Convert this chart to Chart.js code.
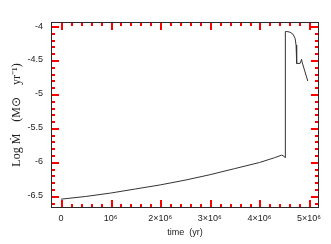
<!DOCTYPE html>
<html lang="en">
<head>
    <meta charset="UTF-8">
    <title>Mass loss rate</title>
    <script src="https://cdn.jsdelivr.net/npm/chart.js"></script>
    <style>
        html, body { margin: 0; padding: 0; background: #fff; }
        #wrap { width: 331px; height: 244px; }
    </style>
</head>
<body>
    <div id="wrap"><canvas id="chart"></canvas></div>
    <script>
        // time in yr, log Mdot in Msun/yr
        var timeYr = [0, 0.5e6, 1e6, 1.5e6, 2e6, 2.5e6, 3e6, 3.5e6, 4e6, 4.3e6, 4.45e6, 4.5e6, 4.52e6,
                      4.522e6, 4.55e6, 4.617e6, 4.677e6, 4.718e6, 4.738e6, 4.75e6, 4.819e6, 4.849e6, 4.859e6, 4.974e6];
        var logMdot = [-6.55, -6.51, -6.46, -6.40, -6.34, -6.27, -6.19, -6.10, -6.01, -5.94, -5.90, -5.92, -5.94,
                       -4.08, -4.08, -4.09, -4.12, -4.18, -4.28, -4.55, -4.55, -4.49, -4.53, -4.81];
        var xTicks = [0, 1e6, 2e6, 3e6, 4e6, 5e6];
        var xTickLabels = ['0', '10\u2076', '2\u00d710\u2076', '3\u00d710\u2076', '4\u00d710\u2076', '5\u00d710\u2076'];
        var yTicks = [-6.5, -6, -5.5, -5, -4.5, -4];
        // minor tick positions for the frame
        var xMinor = [0, 0.2e6, 0.4e6, 0.6e6, 0.8e6, 1e6, 1.2e6, 1.4e6, 1.6e6, 1.8e6, 2e6, 2.2e6, 2.4e6, 2.6e6, 2.8e6,
                      3e6, 3.2e6, 3.4e6, 3.6e6, 3.8e6, 4e6, 4.2e6, 4.4e6, 4.6e6, 4.8e6, 5e6];
        var yMinor = [-6.6, -6.5, -6.4, -6.3, -6.2, -6.1, -6, -5.9, -5.8, -5.7, -5.6, -5.5, -5.4, -5.3, -5.2, -5.1,
                      -5, -4.9, -4.8, -4.7, -4.6, -4.5, -4.4, -4.3, -4.2, -4.1, -4];

        var points = timeYr.map(function(t, i) { return { x: t, y: logMdot[i] }; });

        // frame with inward ticks on all four sides
        var framePlugin = {
            id: 'frame',
            afterDatasetsDraw: function(chart) {
                var c = chart.ctx, a = chart.chartArea;
                var xs = chart.scales.x, ys = chart.scales.y;
                var L = Math.round(a.left), R = Math.round(a.right), T = Math.round(a.top), B = Math.round(a.bottom);
                c.save();
                c.globalAlpha = 1;
                c.globalCompositeOperation = 'source-over';
                c.fillStyle = '#2a2a2a';
                c.fillRect(L, T, R - L, 1);
                c.fillRect(L, B - 1, R - L, 1);
                c.fillRect(L, T, 1, B - T);
                c.fillRect(R - 1, T, 1, B - T);
                c.fillStyle = '#ff0000';
                xMinor.forEach(function(v) {
                    var px = Math.round(xs.getPixelForValue(v));
                    var len = xTicks.indexOf(v) >= 0 ? 7 : 3;
                    c.fillRect(px, B - 1 - len, 2, len);
                    c.fillRect(px, T + 1, 2, len);
                });
                yMinor.forEach(function(v) {
                    var py = Math.round(ys.getPixelForValue(v));
                    var len = yTicks.indexOf(v) >= 0 ? 7 : 3;
                    c.fillRect(L + 1, py, len, 2);
                    c.fillRect(R - 1 - len, py, len, 2);
                });
                c.restore();
            }
        };

        var ctx = document.getElementById('chart').getContext('2d');
        var chart = new Chart(ctx, {
            type: 'line',
            data: {
                datasets: [{
                    data: points,
                    borderColor: '#333',
                    borderWidth: 1,
                    pointRadius: 0,
                    tension: 0,
                    fill: false
                }]
            },
            options: {
                responsive: true,
                maintainAspectRatio: false,
                animation: false,
                layout: { padding: { top: 22, right: 12, left: 0, bottom: 0 } },
                plugins: { legend: { display: false }, tooltip: { enabled: false } },
                scales: {
                    x: {
                        type: 'linear',
                        min: -0.2e6,
                        max: 5.2e6,
                        grid: { display: false, drawTicks: false },
                        border: { display: false },
                        afterBuildTicks: function(s) { s.ticks = xTicks.map(function(v) { return { value: v }; }); },
                        afterFit: function(s) { s.height = 36; },
                        ticks: {
                            color: '#222',
                            padding: 5,
                            maxRotation: 0,
                            font: { family: 'Liberation Sans', size: 9 },
                            callback: function(v) { return xTickLabels[xTicks.indexOf(v)]; }
                        },
                        title: {
                            display: true,
                            text: 'time  (yr)',
                            color: '#222',
                            padding: { top: 2, bottom: 6 },
                            font: { family: 'Liberation Sans', size: 9 }
                        }
                    },
                    y: {
                        min: -6.68,
                        max: -3.94,
                        grid: { display: false, drawTicks: false },
                        border: { display: false },
                        afterBuildTicks: function(s) { s.ticks = yTicks.map(function(v) { return { value: v }; }); },
                        afterFit: function(s) { s.width = 51; },
                        ticks: {
                            color: '#222',
                            padding: 8,
                            font: { family: 'Liberation Sans', size: 9 },
                            callback: function(v) { return String(v); }
                        },
                        title: {
                            display: true,
                            text: 'Log \u1E40    (M\u2299    yr\u207B\u00B9)',
                            color: '#222',
                            padding: { top: 10, bottom: 0 },
                            font: { family: 'Liberation Serif', size: 12 }
                        }
                    }
                }
            },
            plugins: [framePlugin]
        });
    </script>
</body>
</html>
